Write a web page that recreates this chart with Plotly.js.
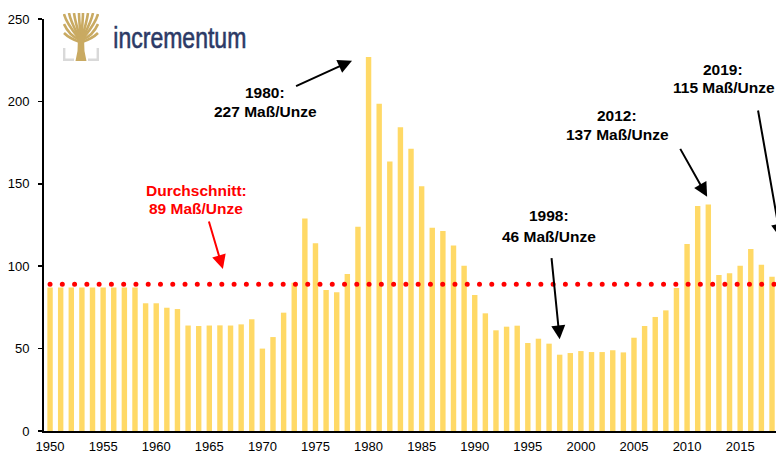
<!DOCTYPE html>
<html>
<head>
<meta charset="utf-8">
<script src="https://cdn.plot.ly/plotly-3.0.1.min.js"></script>
<style>
  html, body { margin: 0; padding: 0; overflow: hidden; background: #fff; }
  #chart { width: 800px; height: 453px; }
</style>
</head>
<body>
<div id="chart"></div>
<script>
// ---- data ----
const years = [];
for (let y = 1950; y <= 2019; y++) years.push(y);
const ratio = [
  87, 87, 87, 87, 87, 87, 87, 87, 87, 77.5,
  77.5, 74.8, 74, 64, 63.7, 64, 64.1, 64, 64.7, 67.8,
  50, 57, 71.8, 90, 129, 114, 85.6, 84.2, 95.3, 124,
  227, 198.5, 163.5, 184.3, 171.3, 148.5, 123.4, 121.3, 112.6, 100.2,
  82.5, 71.4, 61.1, 63.3, 63.9, 53.4, 56, 53, 46.3, 47.3,
  48.5, 47.9, 47.9, 49, 47.7, 56.6, 63.7, 69.2, 73.2, 86.8,
  113.5, 136.5, 137.5, 94.7, 95.7, 100.3, 110.4, 100.9, 93.6, 115
];
const average = 89;
const avgYears = [1950, 2019];
const avgValues = [average, average];

const labelFont = {family: 'Liberation Sans, Arial, sans-serif', size: 15.5, color: '#000'};
const redFont = {family: 'Liberation Sans, Arial, sans-serif', size: 15.5, color: '#FF0000'};

function txt(x, y, t, font) {
  return {x: x, y: y, xref: 'x', yref: 'y', text: '<b>' + t + '</b>', showarrow: false,
          font: font, xanchor: 'center', yanchor: 'middle'};
}
function arr(x, y, ax, ay, color) {
  return {x: x, y: y, ax: ax, ay: ay, xref: 'x', yref: 'y', axref: 'x', ayref: 'y',
          text: '', showarrow: true, arrowhead: 2, arrowsize: 1.4, arrowwidth: 2,
          arrowcolor: color, standoff: 0, startstandoff: 0};
}

const annotations = [
  txt(1970.29, 205.3, '1980:', labelFont),
  txt(1970.29, 193.9, '227 Maß/Unze', labelFont),
  arr(1978.44, 224.7, 1973.03, 208.9, '#000'),

  txt(1963.76, 146.2, 'Durchschnitt:', redFont),
  txt(1963.76, 135.3, '89 Maß/Unze', redFont),
  arr(1966.28, 98.3, 1964.92, 128.0, '#FF0000'),

  txt(1996.98, 130.5, '1998:', labelFont),
  txt(1996.98, 118.3, '46 Maß/Unze', labelFont),
  arr(1998.0, 55.6, 1997.22, 105.8, '#000'),

  txt(2003.42, 191.7, '2012:', labelFont),
  txt(2003.42, 180.0, '137 Maß/Unze', labelFont),
  arr(2011.89, 142.2, 2009.28, 172.1, '#000'),

  txt(2013.36, 219.1, '2019:', labelFont),
  txt(2013.46, 208.3, '115 Maß/Unze', labelFont),
  arr(2018.80, 117.1, 2016.66, 195.4, '#000'),

  {x: 0.1826, y: 0.954, xref: 'paper', yref: 'paper', text: 'incrementum', showarrow: false,
   xanchor: 'center', yanchor: 'middle', name: 'logotext',
   font: {family: 'Liberation Sans, Arial, sans-serif', size: 29, color: '#2C3A66'}}
];

const logoSvg =
  '<svg xmlns="http://www.w3.org/2000/svg" viewBox="0 0 36 48">' +
  '<g stroke="#C9AA62" stroke-width="2.6" fill="none">' +
  '<path d="M18,28 C12,20 4,12 1,1"/><path d="M18,28 C13,18 8,10 6,0"/>' +
  '<path d="M18,28 C15,18 12,8 11,0"/><path d="M18,28 C17,16 16,6 16,0"/>' +
  '<path d="M18,28 C19,16 20,6 20,0"/><path d="M18,28 C21,18 24,8 25,0"/>' +
  '<path d="M18,28 C23,18 28,10 30,0"/><path d="M18,28 C24,20 32,12 35,1"/>' +
  '<path d="M17,27 C10,24 4,18 1,11"/><path d="M19,27 C26,24 32,18 35,11"/>' +
  '<path d="M17,29 C11,27 5,24 1,20"/><path d="M19,29 C25,27 31,24 35,20"/>' +
  '</g>' +
  '<path d="M15,24 L21,24 L21.5,38 L23.5,48 L12.5,48 L14.5,38 Z" fill="#C9AA62"/>' +
  '<path d="M1.2,35 V46.8 H11" stroke="#D9D9D9" stroke-width="2.4" fill="none"/>' +
  '<path d="M34.8,35 V46.8 H25" stroke="#D9D9D9" stroke-width="2.4" fill="none"/>' +
  '</svg>';

const data = [
  {type: 'bar', x: years, y: ratio, marker: {color: '#FFD966'}, hoverinfo: 'x+y'},
  {type: 'scatter', mode: 'lines', x: avgYears, y: avgValues,
   line: {color: '#FF0000', width: 5, dash: '0px,12.27px'}, hoverinfo: 'skip'}
];

const layout = {
  width: 800, height: 453,
  margin: {l: 44, r: 11, t: 19, b: 22},
  paper_bgcolor: '#fff', plot_bgcolor: '#fff',
  showlegend: false,
  bargap: 0.49,
  font: {family: 'Liberation Sans, Arial, sans-serif', size: 13, color: '#000'},
  xaxis: {
    range: [1949.43, 2019.6], tick0: 1950, dtick: 5, ticks: '',
    showline: true, linecolor: '#000', linewidth: 2, showgrid: false, zeroline: false,
    tickfont: {size: 13, color: '#000'}, ticklabelstandoff: 2
  },
  yaxis: {
    range: [0, 250], dtick: 50, ticks: 'outside', ticklen: 4, tickwidth: 1.5, tickcolor: '#000',
    showline: true, linecolor: '#000', linewidth: 2, showgrid: false, zeroline: false,
    tickfont: {size: 13, color: '#000'}, ticklabelstandoff: 6
  },
  annotations: annotations,
  images: [{
    source: 'data:image/svg+xml;charset=utf-8,' + encodeURIComponent(logoSvg),
    xref: 'paper', yref: 'paper', x: 0.0255, y: 1.0145, sizex: 0.0483, sizey: 0.1165,
    xanchor: 'left', yanchor: 'top', sizing: 'stretch', layer: 'above'
  }]
};

Plotly.newPlot('chart', data, layout, {displayModeBar: false, staticPlot: true}).then(function () {
  document.querySelectorAll('.scatterlayer .js-line').forEach(function (p) {
    p.style.strokeLinecap = 'round';
  });
  document.querySelectorAll('text.annotation-text').forEach(function (t) {
    if (t.textContent === 'incrementum') {
      t.setAttribute('textLength', '133');
      t.setAttribute('lengthAdjust', 'spacingAndGlyphs');
      t.style.stroke = '#2C3A66';
      t.style.strokeWidth = '0.6px';
    }
  });
});
</script>
</body>
</html>
